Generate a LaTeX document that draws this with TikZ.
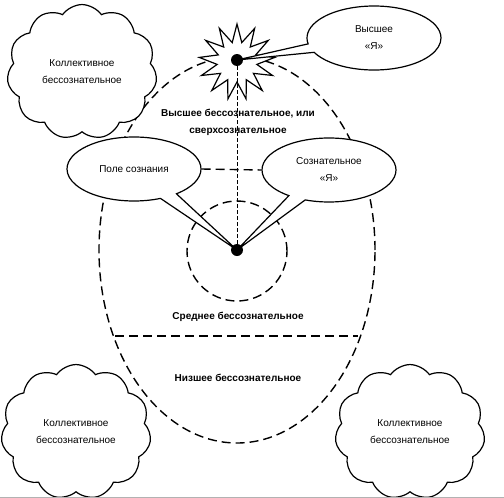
\documentclass[tikz,border=0pt]{standalone}
\usepackage{fontspec}
\setmainfont{Liberation Sans}
\usetikzlibrary{shapes.geometric,shapes.symbols,shapes.callouts}

\begin{document}
\begin{tikzpicture}[x=1pt,y=-1pt,
    dashline/.style={dash pattern=on 9pt off 5pt, line width=1.4pt},
    blob/.style={cloud, cloud puffs=11, cloud puff arc=110, draw, line width=1.2pt, fill=white,
        font=\fontsize{10}{17}\selectfont, align=center, minimum width=150pt, minimum height=112pt},
    bubble/.style={ellipse callout, draw, line width=1.2pt, fill=white, font=\fontsize{10}{17}\selectfont,
        align=center, callout pointer arc=16, minimum width=134pt, minimum height=64pt, inner sep=0pt},
    dot/.style={circle, fill=black, inner sep=0pt, minimum size=12pt},
    title/.style={font=\fontsize{10}{17}\selectfont\bfseries, align=center}]

    \useasboundingbox (0,0) rectangle (504,498);

    % Draw the big egg and the small circle
    \draw[dashline] (237,250) ellipse (138pt and 193pt);
    \draw[dashline] (237,251) circle (50pt);

    % Border between the middle and the lower unconscious
    \draw[dashline] (115,336) -- (358,336);

    % The star of the higher self
    \node[star, star points=13, star point ratio=1.9, minimum size=76pt, draw, line width=1.2pt, fill=white] (burst) at (237,62) {};

    % Points of the two selves
    \coordinate (top) at (237,60);
    \coordinate (low) at (237,250);

    % Callouts
    \node[bubble, callout absolute pointer=(top)] (higher) at (374,38) {Высшее\\«Я»};
    \node[bubble, callout absolute pointer=(low)] (field) at (134,169) {Поле сознания};
    \node[bubble, callout absolute pointer=(low)] (ego) at (329,170) {Сознательное\\«Я»};

    % Dots and the line between them
    \node[dot] (topdot) at (top) {};
    \node[dot] (lowdot) at (low) {};
    \draw[dash pattern=on 4pt off 2pt, line width=0.8pt] (topdot) -- (lowdot);
    \draw[dashline] (field.east) -- (ego.west);

    % Labels of the levels
    \node[title] (upper) at (238,122) {Высшее бессознательное, или\\сверхсознательное};
    \node[title] (middle) at (238,317) {Среднее бессознательное};
    \node[title] (lower) at (238,378) {Низшее бессознательное};

    % Clouds of the collective unconscious
    \node[blob] (cloudA) at (82,72) {Коллективное\\бессознательное};
    \node[blob] (cloudB) at (76,432) {Коллективное\\бессознательное};
    \node[blob] (cloudC) at (410,432) {Коллективное\\бессознательное};

    % Bottom edge
    \draw[gray!60, line width=1pt] (0,497) -- (504,497);
\end{tikzpicture}
\end{document}
